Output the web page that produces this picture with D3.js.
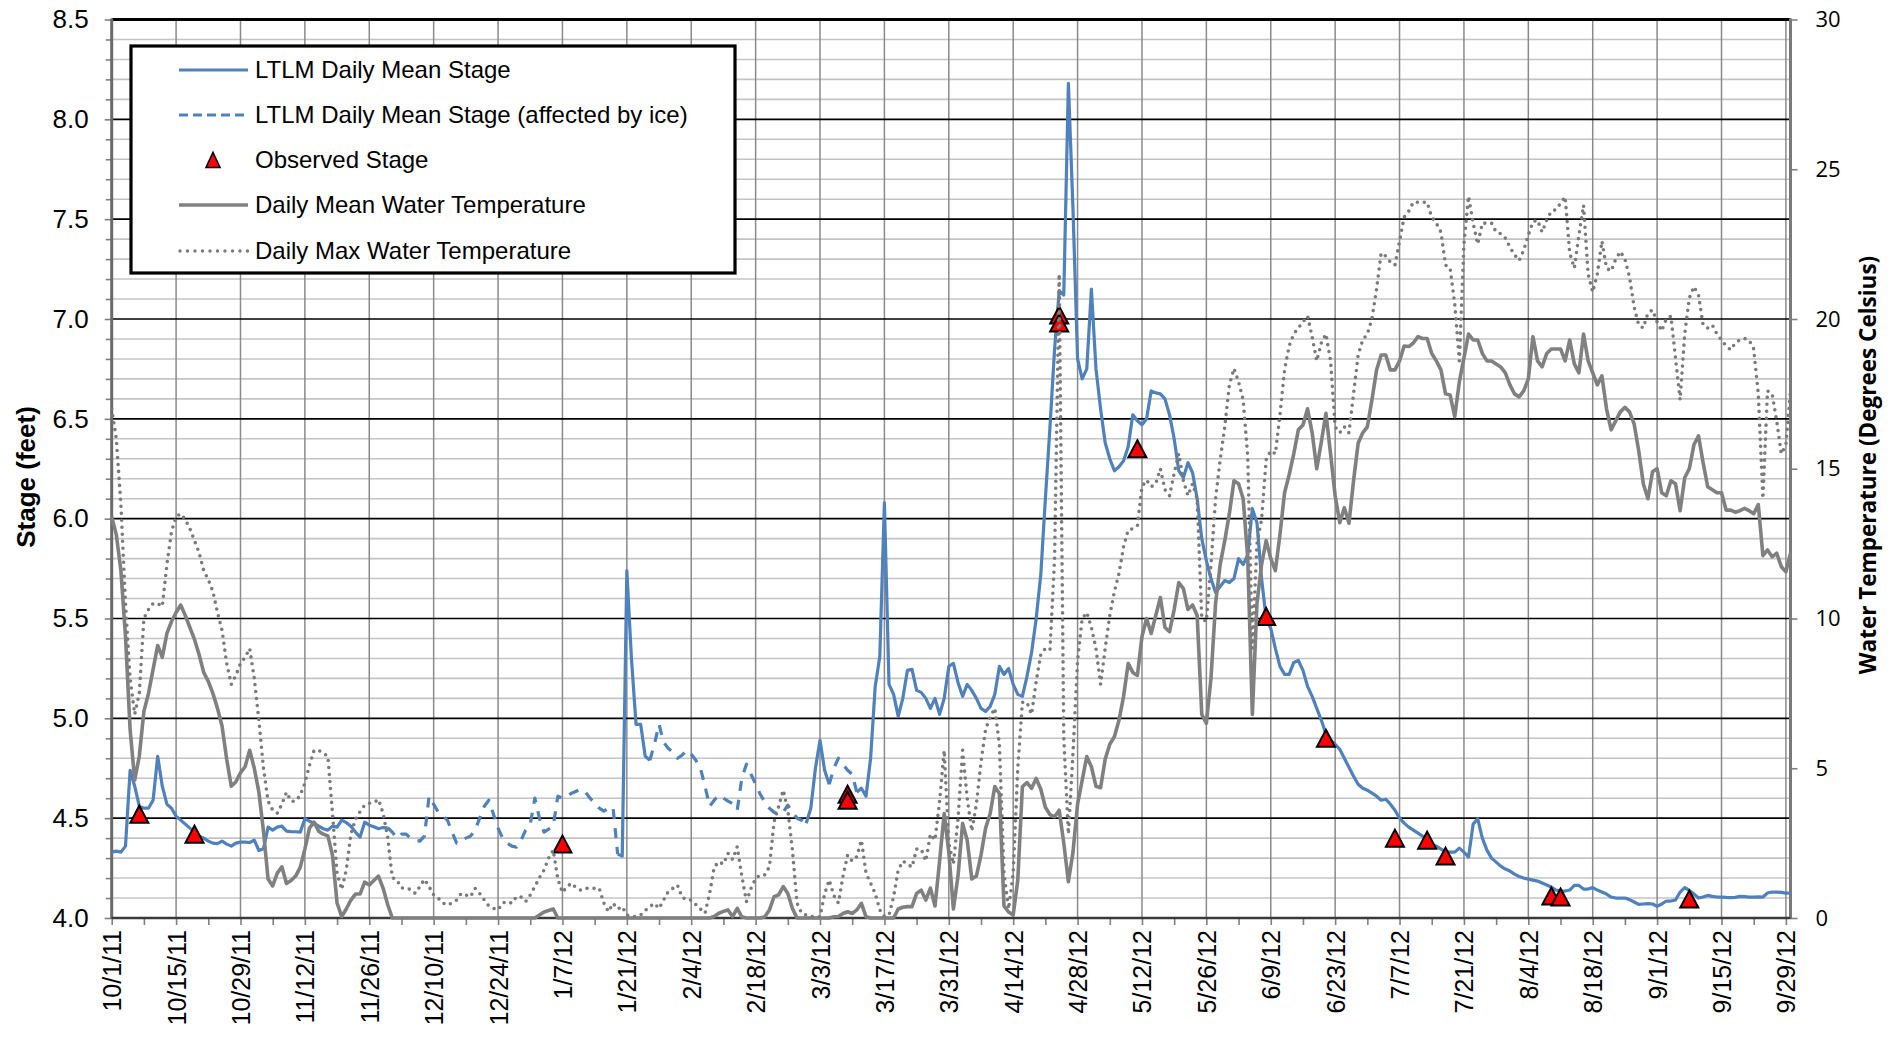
<!DOCTYPE html>
<html><head><meta charset="utf-8">
<script src="https://cdn.jsdelivr.net/npm/d3@7"></script>
<style>
html,body{margin:0;padding:0;background:#fff;}
svg{display:block;}
</style></head><body>
<svg id="chart" width="1902" height="1041"></svg>
<script>
// ---------------- DATA ----------------
const startDateUTC = Date.UTC(2011, 9, 1);   // 10/1/11 (day 0)
const endDateUTC = Date.UTC(2012, 8, 30);    // 9/30/12 (day 365)

// LTLM daily mean stage (feet), day 0 = 10/1/11
const stageMean = [
 4.33,4.335,4.33,4.36,4.74,4.66,4.56,4.55,4.55,4.59,
 4.81,4.66,4.57,4.55,4.51,4.49,4.47,4.45,4.43,4.41,
 4.40,4.385,4.375,4.372,4.385,4.37,4.36,4.375,4.38,4.38,
 4.378,4.39,4.338,4.347,4.455,4.44,4.455,4.46,4.435,4.433,
 4.432,4.43,4.497,4.485,4.475,4.46,4.447,4.44,4.46,4.455,
 4.49,4.478,4.46,4.43,4.405,4.48,4.465,4.457,4.447,4.453,
 4.452,4.43,4.40,4.42,4.42,4.40,4.39,4.385,4.41,4.61,
 4.57,4.53,4.51,4.49,4.43,4.375,4.39,4.40,4.41,4.44,
 4.50,4.56,4.59,4.52,4.45,4.40,4.375,4.36,4.355,4.39,
 4.44,4.47,4.60,4.50,4.43,4.445,4.46,4.61,4.60,4.61,
 4.625,4.635,4.645,4.63,4.60,4.575,4.55,4.535,4.55,4.555,
 4.32,4.31,5.74,5.30,4.97,4.97,4.81,4.79,4.87,4.97,
 4.88,4.85,4.83,4.80,4.815,4.84,4.82,4.79,4.75,4.66,
 4.56,4.59,4.615,4.60,4.585,4.572,4.54,4.70,4.77,4.72,
 4.67,4.62,4.58,4.55,4.53,4.52,4.53,4.565,4.53,4.50,
 4.49,4.475,4.55,4.75,4.89,4.74,4.67,4.75,4.80,4.77,
 4.74,4.72,4.63,4.65,4.61,4.80,5.16,5.31,6.08,5.17,
 5.12,5.01,5.10,5.24,5.245,5.14,5.13,5.10,5.05,5.10,
 5.02,5.10,5.26,5.275,5.18,5.11,5.17,5.14,5.10,5.05,
 5.035,5.06,5.12,5.26,5.22,5.25,5.17,5.12,5.11,5.21,
 5.33,5.50,5.72,6.10,6.46,6.85,7.14,7.12,8.18,7.55,
 6.80,6.70,6.75,7.15,6.75,6.55,6.38,6.30,6.24,6.26,
 6.29,6.36,6.52,6.49,6.47,6.50,6.64,6.63,6.625,6.60,
 6.52,6.40,6.24,6.205,6.28,6.23,6.10,5.90,5.79,5.70,
 5.63,5.66,5.69,5.68,5.70,5.80,5.77,5.82,6.05,5.98,
 5.70,5.50,5.45,5.35,5.26,5.22,5.22,5.28,5.29,5.24,
 5.16,5.11,5.05,4.99,4.92,4.89,4.87,4.845,4.80,4.755,
 4.71,4.67,4.65,4.64,4.625,4.61,4.59,4.595,4.57,4.54,
 4.50,4.475,4.455,4.44,4.425,4.41,4.39,4.37,4.36,4.345,
 4.333,4.33,4.33,4.35,4.33,4.305,4.47,4.497,4.40,4.34,
 4.30,4.28,4.26,4.245,4.235,4.22,4.208,4.20,4.195,4.19,
 4.185,4.175,4.165,4.155,4.14,4.135,4.135,4.14,4.163,4.163,
 4.145,4.145,4.152,4.14,4.13,4.12,4.105,4.10,4.10,4.10,
 4.092,4.08,4.068,4.07,4.072,4.07,4.058,4.07,4.085,4.085,
 4.09,4.13,4.152,4.138,4.12,4.10,4.105,4.113,4.108,4.105,
 4.105,4.103,4.102,4.103,4.108,4.107,4.105,4.105,4.106,4.105,
 4.125,4.13,4.13,4.128,4.125,4.125
];
// periods (day index ranges) where the stage record is affected by ice
const iceRanges = [[60,110],[117,151],[156,162]];

// Observed stage
const obsDays  = [6, 18, 98, 160, 160, 206, 206, 223, 251, 264, 279, 286, 290, 313, 315, 343];
const obsStage = [4.52, 4.42, 4.37, 4.62, 4.59, 7.02, 6.98, 6.35, 5.51, 4.90, 4.40, 4.39, 4.31, 4.11, 4.105, 4.095];

// Daily mean water temperature (deg C)
const tempMean = [
 13.4,12.8,11.6,9.4,6.3,4.6,5.4,6.9,7.5,8.3,
 9.1,8.7,9.5,9.9,10.2,10.45,10.1,9.7,9.3,8.8,
 8.2,7.9,7.5,7.0,6.4,5.3,4.4,4.55,4.85,5.05,
 5.6,5.0,4.2,2.9,1.3,1.07,1.5,1.71,1.15,1.25,
 1.4,1.7,2.3,3.0,3.2,2.9,2.8,2.74,2.1,0.5,
 0.05,0.3,0.6,0.8,0.8,1.2,1.1,1.25,1.4,1.0,
 0.45,0,0,0,0,0,0,0,0,0,
 0,0,0,0,0,0,0,0,0,0,
 0,0,0,0,0,0,0,0,0,0,
 0,0,0,0.1,0.2,0.25,0.3,0,0,0,
 0,0,0,0,0,0,0,0,0,0,
 0,0,0,0,0,0,0,0,0,0,
 0,0,0,0,0,0,0,0,0,0,
 0,0.05,0.16,0.22,0.27,0.05,0.32,0.04,0,0,
 0,0,0.04,0.27,0.71,0.77,1.05,0.82,0.32,0,
 0,0,0,0,0,0,0,0.04,0.05,0.15,
 0.21,0.15,0.27,0.49,0.04,0,0,0,0,0,
 0,0.3,0.36,0.38,0.38,0.82,0.93,0.6,1.0,0.4,
 1.9,3.49,2.2,0.3,1.4,3.16,2.6,1.3,1.4,2.1,
 3.0,3.49,4.39,4.16,0.4,0.2,0.1,1.27,4.39,4.52,
 4.33,4.66,4.3,3.7,3.45,3.38,3.6,2.5,1.21,2.2,
 3.8,4.6,5.39,5.05,4.4,4.35,5.3,5.8,6.05,6.6,
 7.4,8.5,8.2,8.1,9.4,10.0,9.5,10.1,10.7,9.7,
 9.56,10.3,11.2,11.0,10.3,10.45,10.1,6.8,6.5,8.0,
 10.5,11.8,12.6,13.5,14.6,14.5,14.0,12.0,6.8,10.5,
 11.8,12.6,12.0,11.6,12.8,14.2,14.8,15.5,16.3,16.46,
 17.0,16.2,15.0,15.9,16.85,15.5,14.1,13.2,13.7,13.18,
 14.6,15.85,16.2,16.4,17.3,18.3,18.8,18.8,18.3,18.3,
 18.6,19.1,19.08,19.2,19.41,19.35,19.35,18.85,18.6,18.3,
 17.5,17.46,16.74,17.9,18.7,19.5,19.3,19.3,18.85,18.6,
 18.6,18.5,18.4,18.2,17.8,17.5,17.4,17.6,18.0,19.41,
 18.6,18.4,18.85,19.0,19.0,19.0,18.6,19.3,18.5,18.2,
 19.5,18.6,18.2,17.8,18.1,17.0,16.3,16.6,16.9,17.05,
 16.9,16.5,15.6,14.5,14.0,14.9,15.0,14.2,14.1,14.6,
 14.5,13.6,14.7,15.0,15.8,16.1,15.2,14.4,14.3,14.2,
 14.2,13.62,13.62,13.55,13.6,13.68,13.6,13.5,13.8,12.1,
 12.29,12.06,12.18,11.73,11.56,12.18
];

// Daily max water temperature (deg C)
const tempMax = [
 17.0,16.0,13.8,10.5,8.0,6.8,7.5,10.0,10.3,10.5,
 10.5,10.4,11.8,12.9,13.4,13.5,13.3,13.0,12.6,12.2,
 11.6,11.3,10.9,10.2,9.6,8.5,7.8,8.1,8.5,8.7,
 9.0,8.0,6.6,5.0,3.9,3.6,3.5,3.8,4.2,3.9,
 3.9,4.1,4.5,5.1,5.6,5.6,5.5,5.4,3.5,1.5,
 0.95,1.6,2.8,3.3,3.55,3.77,3.83,3.85,3.96,3.5,
 2.7,1.35,1.27,1.0,1.0,0.95,0.82,1.05,1.29,1.05,
 0.77,0.66,0.5,0.43,0.5,0.6,0.82,0.77,0.71,0.99,
 0.82,0.6,0.4,0.32,0.27,0.5,0.55,0.49,0.71,0.7,
 0.55,0.77,1.05,1.35,1.6,2.0,2.27,1.3,0.85,1.05,
 1.16,1.0,0.93,0.99,0.99,0.99,0.99,0.5,0.21,0.49,
 0.3,0.38,0.1,0.05,0.05,0.1,0.25,0.38,0.49,0.32,
 0.6,0.88,0.99,1.1,0.7,0.6,0.6,0.45,0.3,0.16,
 0.82,1.7,1.88,1.8,2.16,1.95,2.38,1.4,0.55,0.99,
 1.32,1.44,1.44,1.71,3.2,3.72,4.27,3.6,2.27,0.5,
 0.16,0.1,0.05,0.04,0.04,0.8,1.27,0.75,0.5,1.4,
 2.1,1.9,2.05,2.6,1.5,1.16,0.82,0.27,0.05,0.1,
 0.71,1.6,1.9,1.8,1.7,2.3,2.3,1.9,2.8,2.6,
 3.9,5.6,2.5,1.8,3.3,5.6,4.0,2.9,3.8,5.2,
 6.3,6.72,7.0,5.8,1.5,0.3,1.5,5.0,7.2,7.2,
 6.8,7.9,8.8,9.0,8.95,12.0,21.5,6.0,2.8,5.5,
 8.6,10.0,10.2,9.7,9.0,7.8,9.0,10.1,10.9,11.5,
 12.4,12.95,13.0,13.1,14.4,14.62,14.4,14.5,15.0,14.3,
 14.1,14.85,15.5,14.6,14.1,14.5,14.0,10.0,9.9,11.8,
 14.0,15.3,16.4,17.8,18.35,17.9,17.3,15.4,9.0,12.5,
 13.3,15.3,15.6,15.5,16.8,18.3,19.1,19.5,19.7,19.9,
 20.1,19.4,18.6,19.2,19.5,18.6,16.4,16.2,16.4,16.2,
 17.5,18.8,19.3,19.5,20.0,21.0,22.2,22.1,21.9,21.8,
 22.6,23.4,23.6,23.9,23.9,23.9,23.9,23.4,23.2,22.9,
 21.8,21.7,20.5,18.6,22.5,24.1,23.2,22.5,23.2,23.2,
 23.2,22.9,22.85,22.7,22.4,22.14,21.95,22.3,22.8,23.25,
 23.3,22.9,23.3,23.6,23.65,23.86,24.08,22.2,21.7,22.8,
 23.8,21.5,20.9,21.5,22.6,21.7,21.6,22.0,22.25,22.0,
 21.4,20.4,19.8,19.7,20.2,20.3,19.9,19.6,20.0,20.1,
 18.7,17.3,19.5,20.7,21.08,20.8,19.8,19.7,19.8,19.5,
 19.3,19.1,18.97,19.2,19.3,19.35,19.3,19.0,17.5,14.0,
 17.6,17.5,16.6,15.5,15.8,17.6
];

// Axis tick labels
const xTickLabels = ["10/1/11","10/15/11","10/29/11","11/12/11","11/26/11","12/10/11","12/24/11",
 "1/7/12","1/21/12","2/4/12","2/18/12","3/3/12","3/17/12","3/31/12","4/14/12","4/28/12",
 "5/12/12","5/26/12","6/9/12","6/23/12","7/7/12","7/21/12","8/4/12","8/18/12","9/1/12",
 "9/15/12","9/29/12"];
const stageTicks = [4.0,4.5,5.0,5.5,6.0,6.5,7.0,7.5,8.0,8.5];
const tempTicks = [0,5,10,15,20,25,30];
const legendLabels = ["LTLM Daily Mean Stage","LTLM Daily Mean Stage (affected by ice)",
 "Observed Stage","Daily Mean Water Temperature","Daily Max Water Temperature"];
const yTitleLeft = "Stage (feet)";
const yTitleRight = "Water Temperature (Degrees Celsius)";

// ---------------- CHART ----------------
const svg = d3.select("#chart");
const M = {left: 111.7, right: 1790.5, top: 19.5, bottom: 918};
const t0 = new Date(startDateUTC);
const dayDate = d => d3.utcDay.offset(t0, d);
const x = d3.scaleUtc().domain([t0, new Date(endDateUTC)]).range([M.left, M.right]);
const yL = d3.scaleLinear().domain([4, 8.5]).range([M.bottom, M.top]);
const yR = d3.scaleLinear().domain([0, 30]).range([M.bottom, M.top]);

const BLUE = "#4f81bd", GRAY = "#808080", DOTGRAY = "#7a7a7a";
const ARIAL = "'Liberation Sans', Arial, sans-serif";
const CAL = "'Open Sans', 'Noto Sans', sans-serif";

svg.append("rect").attr("width",1902).attr("height",1041).attr("fill","#fff");

// grid
const g = svg.append("g");
const minorY = d3.range(41, 85).map(v => v/10).filter(v => Math.round(v*10) % 5 !== 0);
g.selectAll(".hmin").data(minorY).join("line")
  .attr("x1", M.left).attr("x2", M.right)
  .attr("y1", d => yL(d)).attr("y2", d => yL(d))
  .attr("stroke", "#c4c4c4").attr("stroke-width", 1.6);
const tickDates = xTickLabels.map((s,i) => dayDate(i*14));
g.selectAll(".vg").data(tickDates.slice(1)).join("line")
  .attr("x1", d => x(d)).attr("x2", d => x(d))
  .attr("y1", M.top).attr("y2", M.bottom)
  .attr("stroke", "#8a8a8a").attr("stroke-width", 1.5);
g.selectAll(".hmaj").data(stageTicks.filter(v => v > 4 && v < 8.5)).join("line")
  .attr("x1", M.left).attr("x2", M.right)
  .attr("y1", d => yL(d)).attr("y2", d => yL(d))
  .attr("stroke", "#000").attr("stroke-width", 1.6);

// axes
const axL = svg.append("g").attr("transform", `translate(${M.left},0)`)
  .call(d3.axisLeft(yL).tickValues(stageTicks).tickSize(7).tickPadding(16).tickFormat(d3.format(".1f")));
const axLm = svg.append("g").attr("transform", `translate(${M.left},0)`)
  .call(d3.axisLeft(yL).tickValues(minorY).tickSize(6).tickFormat(""));
const minorX = d3.range(7, 365, 14).map(dayDate);
const axB = svg.append("g").attr("transform", `translate(0,${M.bottom})`)
  .call(d3.axisBottom(x).tickValues(tickDates).tickSize(7).tickFormat((d,i) => xTickLabels[i]));
const axBm = svg.append("g").attr("transform", `translate(0,${M.bottom})`)
  .call(d3.axisBottom(x).tickValues(minorX).tickSize(7).tickFormat(""));
const axR = svg.append("g").attr("transform", `translate(${M.right},0)`)
  .call(d3.axisRight(yR).tickValues(tempTicks).tickSize(7).tickPadding(18));
[axL, axLm, axB, axBm, axR].forEach(a => {
  a.select(".domain").remove();
  a.selectAll(".tick line").attr("stroke", "#808080").attr("stroke-width", 1.6);
});
axL.selectAll("text").attr("font-family", ARIAL).attr("font-size", 26).attr("fill", "#000");
axR.selectAll("text").attr("font-family", CAL).attr("font-size", 22).attr("fill", "#000");
axB.selectAll("text")
  .attr("font-family", ARIAL).attr("font-size", 25).attr("fill", "#000")
  .attr("transform", "rotate(-90)").attr("text-anchor", "end")
  .attr("x", -12).attr("y", 0).attr("dy", "0.36em");

// plot frame
svg.append("line").attr("x1", M.left).attr("x2", M.right).attr("y1", M.top).attr("y2", M.top)
  .attr("stroke", "#000").attr("stroke-width", 3);
svg.append("line").attr("x1", M.left).attr("x2", M.left).attr("y1", M.top - 1).attr("y2", M.bottom + 1)
  .attr("stroke", "#6a6a6a").attr("stroke-width", 3);
svg.append("line").attr("x1", M.right).attr("x2", M.right).attr("y1", M.top - 1).attr("y2", M.bottom + 1)
  .attr("stroke", "#7a7a7a").attr("stroke-width", 3);
svg.append("line").attr("x1", M.left).attr("x2", M.right).attr("y1", M.bottom).attr("y2", M.bottom)
  .attr("stroke", "#3a3a3a").attr("stroke-width", 2.5);

// series
const stageData = stageMean.map((v, i) => ({d: i, v}));
const strictIce = i => iceRanges.some(([a, b]) => i > a && i < b);
const lineStage = d3.line().defined(d => !strictIce(d.d)).x(d => x(dayDate(d.d))).y(d => yL(d.v));
const lineIce = d3.line().x(d => x(dayDate(d.d))).y(d => yL(d.v));
const plot = svg.append("g");
plot.append("path").attr("d", lineStage(stageData))
  .attr("fill", "none").attr("stroke", BLUE).attr("stroke-width", 3.2).attr("stroke-linejoin", "round");
iceRanges.forEach(([a, b]) => {
  plot.append("path").attr("d", lineIce(stageData.slice(a, b + 1)))
    .attr("fill", "none").attr("stroke", BLUE).attr("stroke-width", 3.2)
    .attr("stroke-dasharray", "10,9").attr("stroke-linejoin", "round");
});
const tri = (w, h) => `M0,${-h/2}L${w/2},${h/2}L${-w/2},${h/2}Z`;
plot.selectAll(".obs").data(obsDays.map((d, i) => ({d, v: obsStage[i]}))).join("path")
  .attr("d", tri(18, 17))
  .attr("transform", d => `translate(${x(dayDate(d.d))},${yL(d.v)})`)
  .attr("fill", "#ff0000").attr("stroke", "#000").attr("stroke-width", 2).attr("stroke-linejoin", "miter");

const lineT = d3.line().x((v, i) => x(dayDate(i))).y(v => yR(v));
plot.append("path").attr("d", lineT(tempMean))
  .attr("fill", "none").attr("stroke", GRAY).attr("stroke-width", 3.6).attr("stroke-linejoin", "round");
plot.append("path").attr("d", lineT(tempMax))
  .attr("fill", "none").attr("stroke", DOTGRAY).attr("stroke-width", 3.6)
  .attr("stroke-dasharray", "0,7").attr("stroke-linecap", "round");

// titles
svg.append("text").attr("transform", "translate(26,477) rotate(-90)")
  .attr("text-anchor", "middle").attr("dy", "0.35em")
  .attr("font-family", ARIAL).attr("font-weight", "bold").attr("font-size", 26).text(yTitleLeft);
svg.append("text").attr("transform", "translate(1868,465) rotate(-90)")
  .attr("text-anchor", "middle").attr("dy", "0.35em")
  .attr("font-family", CAL).attr("font-weight", "bold").attr("font-size", 22.5).text(yTitleRight);

// legend
const lg = svg.append("g");
lg.append("rect").attr("x", 131).attr("y", 46).attr("width", 604).attr("height", 227)
  .attr("fill", "#fff").attr("stroke", "#000").attr("stroke-width", 3.2);
const rowsY = [70, 115, 160, 205, 251];
const sx1 = 179, sx2 = 248;
lg.append("line").attr("x1", sx1).attr("x2", sx2).attr("y1", rowsY[0]).attr("y2", rowsY[0])
  .attr("stroke", BLUE).attr("stroke-width", 3.2);
lg.append("line").attr("x1", sx1).attr("x2", sx2).attr("y1", rowsY[1]).attr("y2", rowsY[1])
  .attr("stroke", BLUE).attr("stroke-width", 3.2).attr("stroke-dasharray", "9,5");
lg.append("path").attr("d", tri(14, 15)).attr("transform", `translate(213,${rowsY[2]})`)
  .attr("fill", "#ff0000").attr("stroke", "#000").attr("stroke-width", 1.6);
lg.append("line").attr("x1", sx1).attr("x2", sx2).attr("y1", rowsY[3]).attr("y2", rowsY[3])
  .attr("stroke", GRAY).attr("stroke-width", 3.6);
lg.append("line").attr("x1", sx1 + 1).attr("x2", sx2).attr("y1", rowsY[4]).attr("y2", rowsY[4])
  .attr("stroke", DOTGRAY).attr("stroke-width", 3.4).attr("stroke-dasharray", "0,7.5").attr("stroke-linecap", "round");
lg.selectAll(".lt").data(legendLabels).join("text")
  .attr("x", 255).attr("y", (d, i) => rowsY[i]).attr("dy", "0.35em")
  .attr("font-family", ARIAL).attr("font-size", 24).attr("fill", "#000").text(d => d);
</script>
</body></html>
